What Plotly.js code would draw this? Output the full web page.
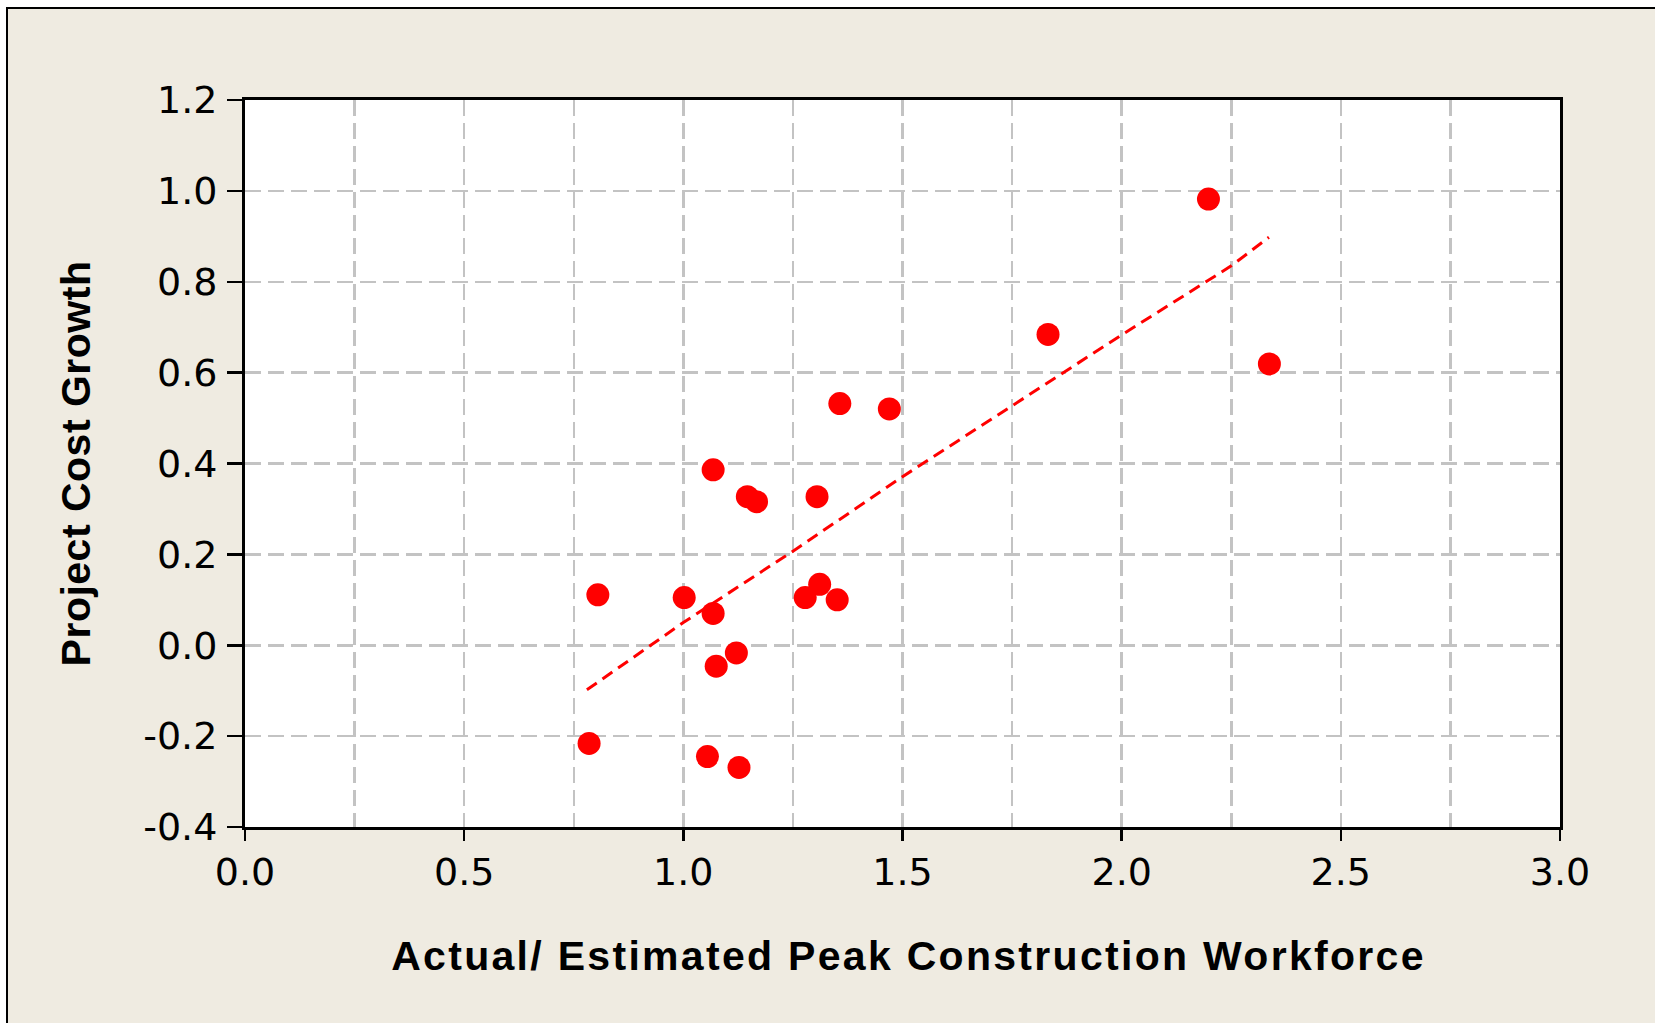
<!DOCTYPE html>
<html><head><meta charset="utf-8">
<script src="https://cdn.plot.ly/plotly-3.0.1.min.js"></script>
<style>
html,body{margin:0;padding:0;background:#ffffff;}
#chart{position:absolute;left:6px;top:7px;width:1647px;height:1014px;border-left:2px solid #000;border-top:2px solid #000;}
.xtitle{letter-spacing:2.3px;transform:translate(6px,-3px);}
.ytitle{letter-spacing:0.5px;}
</style></head><body><div id="chart"></div>
<script>
// Actual / Estimated peak construction workforce (x) and project cost growth (y)
const workforceRatio = [1.357, 1.470, 1.068, 1.146, 1.167, 1.305, 0.805, 1.002, 1.068, 1.311,
                        1.278, 1.351, 1.121, 1.075, 0.785, 1.055, 1.127, 2.198, 1.832, 2.337];
const costGrowth     = [0.532, 0.520, 0.386, 0.327, 0.316, 0.327, 0.111, 0.105, 0.070, 0.134,
                        0.105, 0.100, -0.017, -0.046, -0.216, -0.245, -0.269, 0.982, 0.684, 0.619];
// fitted trend line
const trendX = [0.78, 1.0, 1.25, 1.5, 2.0, 2.25, 2.336];
const trendY = [-0.098, 0.050, 0.207, 0.371, 0.683, 0.835, 0.898];

const xTickVals = [0, 0.5, 1.0, 1.5, 2.0, 2.5, 3.0];
const xTickText = ['0.0', '0.5', '1.0', '1.5', '2.0', '2.5', '3.0'];
const yTickVals = [-0.4, -0.2, 0.0, 0.2, 0.4, 0.6, 0.8, 1.0, 1.2];
const yTickText = ['-0.4', '-0.2', '0.0', '0.2', '0.4', '0.6', '0.8', '1.0', '1.2'];

const xTitle = 'Actual/ Estimated Peak Construction Workforce';
const yTitle = 'Project Cost Growth';

const gridColor = '#c3c3c3';
const tickFont = {family: 'DejaVu Sans', size: 38, color: '#000'};
const titleFont = {family: 'Liberation Sans', size: 41, color: '#000', weight: 'bold'};

const traces = [
  {
    x: trendX, y: trendY, type: 'scatter', mode: 'lines',
    line: {color: '#ff0000', width: 3, dash: '12px,7px'},
    hoverinfo: 'skip', showlegend: false
  },
  {
    x: workforceRatio, y: costGrowth, type: 'scatter', mode: 'markers',
    marker: {color: '#ff0000', size: 23, line: {width: 0}},
    showlegend: false
  }
];

const layout = {
  width: 1647, height: 1014,
  paper_bgcolor: '#efebe1', plot_bgcolor: '#ffffff',
  margin: {l: 237, r: 95, t: 91, b: 196, pad: 0},
  showlegend: false,
  xaxis: {
    range: [0, 3], tickmode: 'array', tickvals: xTickVals, ticktext: xTickText,
    ticks: 'outside', ticklen: 11, tickwidth: 2.5, tickcolor: '#000',
    showline: true, linecolor: '#000', linewidth: 3, mirror: true,
    showgrid: true, gridcolor: gridColor, gridwidth: 2.5, griddash: '16px,7px',
    minor: {dtick: 0.25, tick0: 0, showgrid: true, gridcolor: gridColor, gridwidth: 2.5, griddash: '16px,7px', ticks: ''},
    zeroline: false, tickfont: tickFont, ticklabelstandoff: -2,
    title: {text: xTitle, font: titleFont, standoff: 52}
  },
  yaxis: {
    range: [-0.4, 1.2], tickmode: 'array', tickvals: yTickVals, ticktext: yTickText,
    ticks: 'outside', ticklen: 15, tickwidth: 2.5, tickcolor: '#000',
    showline: true, linecolor: '#000', linewidth: 3, mirror: true,
    showgrid: true, gridcolor: gridColor, gridwidth: 2.5, griddash: '16px,7px',
    zeroline: false, tickfont: tickFont, ticklabelstandoff: 2,
    title: {text: yTitle, font: titleFont, standoff: 40}
  }
};

Plotly.newPlot('chart', traces, layout, {displayModeBar: false, staticPlot: true});
</script></body></html>
